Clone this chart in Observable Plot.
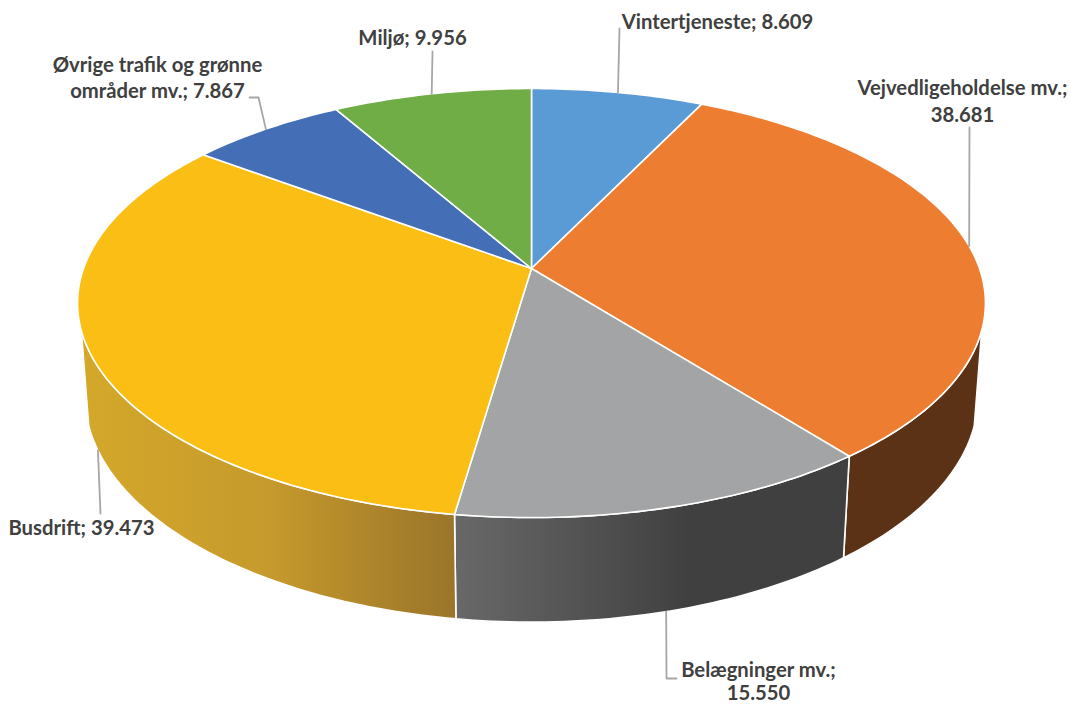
<!DOCTYPE html>
<html lang="da">
<head>
<meta charset="utf-8">
<title>Pie</title>
<style>
html,body{margin:0;padding:0;background:#fff}
svg{display:block}
</style>
<script src="https://cdn.jsdelivr.net/npm/d3@7"></script>
<script src="https://cdn.jsdelivr.net/npm/@observablehq/plot@0.6"></script>
</head>
<body>
<div id="chart"></div>
<script>
// Data, clockwise from twelve o'clock
const categories = ["Vintertjeneste", "Vejvedligeholdelse mv.", "Belægninger mv.", "Busdrift", "Øvrige trafik og grønne\nområder mv.", "Miljø"];
const amounts = [8609, 38681, 15550, 39473, 7867, 9956];
const valueBreaks = [" ", "\n", "\n", " ", " ", " "];

// Styling
const topColors = ["#5B9BD5", "#EC7D31", "#A3A4A5", "#FBBE15", "#446EB6", "#70AD47"];
const sideColors = ["#38618A", "#5C3216", "url(#sideGray)", "url(#sideGold)", "#2A4370", "#44692B"];

// Perspective of the disc (homogeneous projection of the unit circle)
const view = {cx: 531, k: 448, a: 165.8, b: 268, c: -0.161, d: 97.7, e: 0.016, vis: 0.283};
function project(deg, bottom) {
  const t = deg * Math.PI / 180, u = Math.sin(t), v = -Math.cos(t);
  const w = 1 + view.c * v + (bottom ? view.e : 0);
  return [view.cx + view.k * u / w, (view.a * v + view.b + (bottom ? view.d : 0)) / w];
}
const sum = d3.sum(amounts);
let acc = 0;
const slices = amounts.map((amount, i) => {
  const a0 = acc / sum * 360; acc += amount;
  return {i, a0, a1: acc / sum * 360, mid: (a0 + acc / sum * 360) / 2};
});
function arcAngles(a0, a1) {
  const n = Math.max(2, Math.ceil(Math.abs(a1 - a0)));
  return d3.range(n + 1).map(j => a0 + (a1 - a0) * j / n);
}
const topPath = s => [[view.cx, view.b], ...arcAngles(s.a0, s.a1).map(a => project(a, false))];
const visStart = Math.acos(-view.vis) * 180 / Math.PI, visEnd = 360 - visStart;
function sidePath(s) {
  const a0 = Math.max(s.a0, visStart), a1 = Math.min(s.a1, visEnd);
  if (a1 <= a0) return null;
  const as = arcAngles(a0, a1);
  return [...as.map(a => project(a, false)), ...as.slice().reverse().map(a => project(a, true))];
}

// Label placement
const labelCentres = [[717, 20], [962, 99.5], [758, 681], [81, 526], [157, 76], [412, 36]];
const labelLineHeights = [1.3, 1.3, 1.14, 1.3, 1.3, 1.3];
const leaderBends = [[[619, 28]], [[969, 127]], [[676, 678], [666, 678]], [[100, 513]], [[249, 97], [258, 97]], [[432, 51]]];
const leaderOnSide = [false, false, true, true, false, false];

const fmt = d3.formatLocale({decimal: ",", thousands: ".", grouping: [3], currency: ["", ""]}).format(",");
const labels = categories.map((c, i) => ({
  text: `${c};${valueBreaks[i]}${fmt(amounts[i])}`,
  x: labelCentres[i][0], y: labelCentres[i][1], lineHeight: labelLineHeights[i]
}));

const xy = {x: d => d[0], y: d => d[1]};
const defsMark = () => {
  const defs = d3.create("svg:defs");
  const grad = (id, x1, x2, stops) => {
    const g = defs.append("linearGradient").attr("id", id).attr("gradientUnits", "userSpaceOnUse")
      .attr("x1", x1).attr("x2", x2).attr("y1", 0).attr("y2", 0);
    stops.forEach(([o, col]) => g.append("stop").attr("offset", o).attr("stop-color", col));
  };
  grad("sideGold", 80, 456, [[0, "#D4A82A"], [0.5, "#C69A2C"], [1, "#9A742A"]]);
  grad("sideGray", 456, 845, [[0, "#686868"], [0.6, "#404040"], [1, "#404040"]]);
  return defs.node();
};

const marks = [defsMark];
slices.forEach(s => {
  const p = sidePath(s);
  if (p) marks.push(Plot.line(p, {...xy, curve: "linear-closed", fill: sideColors[s.i], stroke: "#fff", strokeWidth: 1.6}));
});
slices.forEach(s => {
  marks.push(Plot.line(topPath(s), {...xy, curve: "linear-closed", fill: topColors[s.i], stroke: "#fff", strokeWidth: 1.6}));
});
slices.forEach(s => {
  const pts = [...leaderBends[s.i], project(s.mid, leaderOnSide[s.i])];
  marks.push(Plot.line(pts, {...xy, stroke: "#A6A6A6", strokeWidth: 1.8}));
});
labels.forEach(l => {
  marks.push(Plot.text([l], {
    x: "x", y: "y", text: "text", textAnchor: "middle", lineAnchor: "middle",
    fontFamily: "Lato", fontWeight: 700, fontSize: 20.3, lineHeight: l.lineHeight, fill: "#404040"
  }));
});

const chart = Plot.plot({
  width: 1070, height: 704, margin: 0,
  x: {domain: [0, 1070], range: [0, 1070], axis: null},
  y: {domain: [0, 704], range: [0, 704], axis: null},
  style: {background: "#fff"},
  marks
});
document.getElementById("chart").append(chart);
</script>
</body>
</html>
